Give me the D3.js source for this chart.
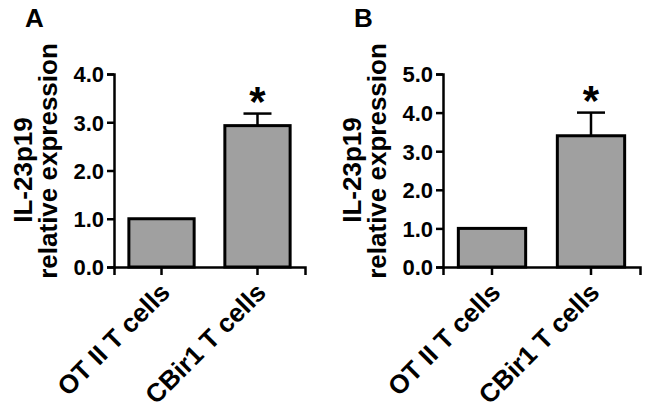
<!DOCTYPE html>
<html>
<head>
<meta charset="utf-8">
<script src="https://cdn.jsdelivr.net/npm/d3@7"></script>
<style>
  body { margin: 0; background: #fff; }
  svg text { font-family: "Liberation Sans", Arial, sans-serif; font-weight: bold; fill: #000; }
</style>
</head>
<body>
<div id="container"></div>
<script>
// data
var categories = ["OT II T cells", "CBir1 T cells"];
var panelAMeans = [1.0, 2.93];
var panelAErrors = [0.0, 0.25];
var panelATicks = [0, 1, 2, 3, 4];
var panelBMeans = [1.0, 3.4];
var panelBErrors = [0.0, 0.6];
var panelBTicks = [0, 1, 2, 3, 4, 5];
var marks = ["", "*"];
var yTitle = ["IL-23p19", "relative expression"];

var W = 649, H = 410;
var svg = d3.select("#container").append("svg")
  .attr("width", W).attr("height", H);
svg.append("rect").attr("width", W).attr("height", H).attr("fill", "#fff");

function drawPanel(letter, means, errs, ticks, left, right) {
  var top = 74, bottom = 267;
  var g = svg.append("g");

  var x = d3.scaleBand().domain(categories).range([left, right])
    .paddingInner(0.32).paddingOuter(0.155);
  var y = d3.scaleLinear().domain([0, d3.max(ticks)]).range([bottom, top]);

  var data = categories.map(function(c, i) {
    return { cat: c, mean: means[i], err: errs[i], mark: marks[i] };
  });

  // bars
  g.selectAll(".bar").data(data).enter().append("rect")
    .attr("x", function(d) { return x(d.cat); })
    .attr("y", function(d) { return y(d.mean); })
    .attr("width", x.bandwidth())
    .attr("height", function(d) { return y(0) - y(d.mean); })
    .attr("fill", "#a0a0a0")
    .attr("stroke", "#000")
    .attr("stroke-width", 3);

  // error bars (upper only)
  var withErr = data.filter(function(d) { return d.err > 0; });
  g.selectAll(".err").data(withErr).enter().append("line")
    .attr("x1", function(d) { return x(d.cat) + x.bandwidth() / 2; })
    .attr("x2", function(d) { return x(d.cat) + x.bandwidth() / 2; })
    .attr("y1", function(d) { return y(d.mean); })
    .attr("y2", function(d) { return y(d.mean + d.err); })
    .attr("stroke", "#000").attr("stroke-width", 2.5);
  g.selectAll(".cap").data(withErr).enter().append("line")
    .attr("x1", function(d) { return x(d.cat) + x.bandwidth() / 2 - 14; })
    .attr("x2", function(d) { return x(d.cat) + x.bandwidth() / 2 + 14; })
    .attr("y1", function(d) { return y(d.mean + d.err); })
    .attr("y2", function(d) { return y(d.mean + d.err); })
    .attr("stroke", "#000").attr("stroke-width", 2.5);

  // significance marks
  g.selectAll(".mark").data(data).enter().append("text")
    .attr("x", function(d) { return x(d.cat) + x.bandwidth() / 2; })
    .attr("y", function(d) { return y(d.mean + d.err) + 2; })
    .attr("text-anchor", "middle")
    .style("font-size", "42px")
    .text(function(d) { return d.mark; });

  // y axis
  var yAxis = d3.axisLeft(y).tickValues(ticks).tickFormat(d3.format(".1f"))
    .tickSizeOuter(0).tickSize(7).tickPadding(3);
  var ya = g.append("g").attr("transform", "translate(" + left + ",0)").call(yAxis);
  ya.select(".domain").attr("stroke-width", 2.5);
  ya.selectAll(".tick line").attr("stroke-width", 2.5);
  ya.selectAll(".tick text").style("font-size", "22px").attr("dy", "0.36em");

  // x axis
  var xAxis = d3.axisBottom(x).tickSizeOuter(0).tickSize(8);
  var xa = g.append("g").attr("transform", "translate(0," + bottom + ")").call(xAxis);
  xa.select(".domain").attr("stroke-width", 2.5);
  xa.selectAll(".tick line").attr("stroke-width", 2.5);
  xa.selectAll(".tick text")
    .style("font-size", "26px")
    .attr("text-anchor", "end")
    .attr("dy", null).attr("y", null)
    .attr("transform", "translate(10,27) rotate(-45)");

  // y title
  g.append("text")
    .attr("transform", "translate(" + (left - 82) + ",170) rotate(-90)")
    .attr("text-anchor", "middle")
    .style("font-size", "26px")
    .text(yTitle[0]);
  g.append("text")
    .attr("transform", "translate(" + (left - 57) + ",161) rotate(-90)")
    .attr("text-anchor", "middle")
    .style("font-size", "26px")
    .text(yTitle[1]);

  // panel letter
  g.append("text")
    .attr("x", left - 89).attr("y", 27)
    .style("font-size", "26px")
    .text(letter);
}

drawPanel("A", panelAMeans, panelAErrors, panelATicks, 114, 305);
drawPanel("B", panelBMeans, panelBErrors, panelBTicks, 443, 640);
</script>
</body>
</html>
